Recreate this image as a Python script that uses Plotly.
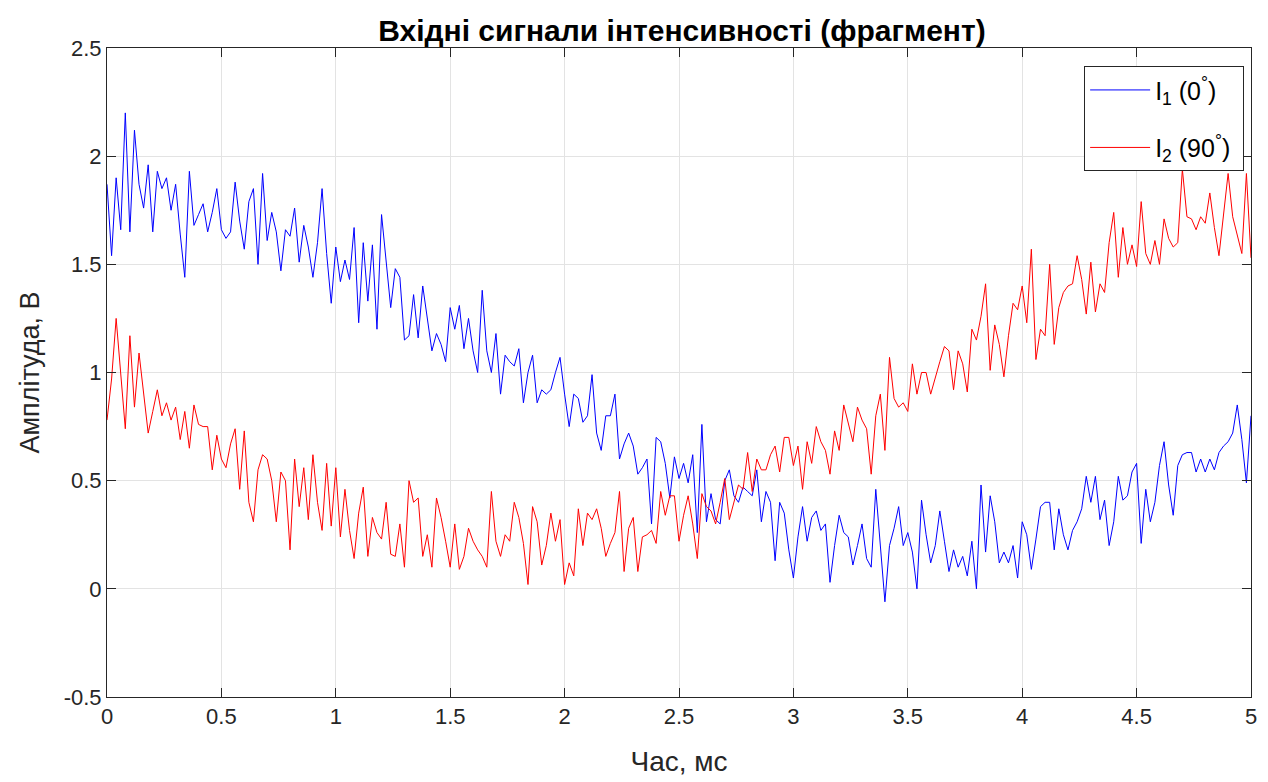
import numpy as np
import plotly.graph_objects as go

i1_values = [
    1.87, 1.54, 1.90, 1.66, 2.20, 1.65, 2.12, 1.87, 1.76, 1.96, 1.65, 1.93, 1.85, 1.90, 1.75, 1.87, 1.64, 1.44, 1.93, 1.68,
    1.73, 1.78, 1.65, 1.74, 1.85, 1.66, 1.62, 1.65, 1.88, 1.70, 1.57, 1.79, 1.85, 1.50, 1.92, 1.61, 1.74, 1.65, 1.47, 1.66,
    1.63, 1.76, 1.51, 1.68, 1.58, 1.44, 1.60, 1.85, 1.55, 1.32, 1.58, 1.42, 1.52, 1.43, 1.67, 1.23, 1.60, 1.33, 1.59, 1.20,
    1.73, 1.50, 1.30, 1.48, 1.44, 1.15, 1.17, 1.36, 1.16, 1.40, 1.26, 1.10, 1.18, 1.13, 1.05, 1.30, 1.20, 1.31, 1.11, 1.25, 1.10, 1.00, 1.38,
    1.10, 1.00, 1.18, 0.90, 1.08, 1.05, 1.03, 1.11, 0.86, 1.00, 1.08, 0.86, 0.92, 0.90, 0.92, 1.00, 1.07, 0.90, 0.75, 0.90, 0.88,
    0.77, 0.80, 0.99, 0.72, 0.64, 0.80, 0.80, 0.90, 0.60, 0.67, 0.72, 0.66, 0.53, 0.56, 0.60, 0.30, 0.70, 0.68, 0.58, 0.42,
    0.61, 0.51, 0.58, 0.49, 0.62, 0.26, 0.76, 0.31, 0.44, 0.32, 0.30, 0.50, 0.55, 0.43, 0.40, 0.47, 0.45, 0.43, 0.55, 0.31,
    0.45, 0.40, 0.13, 0.40, 0.35, 0.18, 0.05, 0.24, 0.38, 0.22, 0.33, 0.36, 0.27, 0.30, 0.03, 0.20, 0.34, 0.26, 0.24, 0.11, 0.20,
    0.30, 0.14, 0.10, 0.46, 0.20, -0.06, 0.20, 0.28, 0.38, 0.20, 0.26, 0.17, 0.00, 0.41, 0.25, 0.12, 0.20, 0.36, 0.22, 0.08, 0.18,
    0.10, 0.15, 0.06, 0.22, 0.00, 0.48, 0.17, 0.43, 0.31, 0.12, 0.17, 0.12, 0.20, 0.05, 0.31, 0.25, 0.09, 0.23, 0.38, 0.40, 0.40,
    0.18, 0.37, 0.25, 0.18, 0.27, 0.31, 0.37, 0.52, 0.40, 0.52, 0.32, 0.41, 0.20, 0.31, 0.52, 0.41, 0.43, 0.54, 0.58, 0.21,
    0.46, 0.31, 0.40, 0.57, 0.68, 0.48, 0.34, 0.57, 0.62, 0.63, 0.63, 0.54, 0.60, 0.54, 0.60, 0.55, 0.63, 0.66, 0.68, 0.72, 0.85, 0.69, 0.49, 0.80,
]

i2_values = [
    0.78, 0.97, 1.25, 1.00, 0.74, 1.17, 0.84, 1.09, 0.90, 0.72, 0.82, 0.92, 0.80, 0.86, 0.78, 0.84, 0.69, 0.82, 0.65, 0.85,
    0.76, 0.75, 0.75, 0.55, 0.71, 0.60, 0.56, 0.67, 0.74, 0.46, 0.73, 0.40, 0.31, 0.55, 0.62, 0.60, 0.50, 0.31, 0.54, 0.50,
    0.18, 0.60, 0.38, 0.56, 0.32, 0.62, 0.40, 0.27, 0.58, 0.29, 0.56, 0.24, 0.46, 0.27, 0.14, 0.35, 0.47, 0.15, 0.33, 0.26,
    0.23, 0.40, 0.16, 0.15, 0.30, 0.10, 0.50, 0.40, 0.42, 0.15, 0.25, 0.10, 0.42, 0.33, 0.22, 0.10, 0.30, 0.09, 0.15, 0.28, 0.22, 0.18, 0.15,
    0.10, 0.45, 0.22, 0.15, 0.25, 0.22, 0.40, 0.33, 0.21, 0.02, 0.38, 0.31, 0.11, 0.20, 0.35, 0.22, 0.32, 0.02, 0.12, 0.06, 0.37,
    0.20, 0.35, 0.32, 0.37, 0.28, 0.15, 0.21, 0.26, 0.45, 0.08, 0.28, 0.33, 0.08, 0.24, 0.25, 0.27, 0.21, 0.45, 0.34, 0.43,
    0.43, 0.22, 0.34, 0.43, 0.30, 0.14, 0.44, 0.38, 0.36, 0.30, 0.40, 0.51, 0.32, 0.40, 0.48, 0.46, 0.63, 0.45, 0.60, 0.55,
    0.55, 0.62, 0.66, 0.54, 0.70, 0.70, 0.57, 0.66, 0.46, 0.68, 0.58, 0.75, 0.68, 0.64, 0.53, 0.73, 0.64, 0.85, 0.77, 0.68, 0.84,
    0.78, 0.74, 0.53, 0.80, 0.90, 0.64, 1.07, 0.88, 0.84, 0.86, 0.82, 1.04, 0.90, 1.00, 1.00, 0.90, 0.98, 1.05, 1.12, 1.10, 0.92,
    1.10, 1.04, 0.91, 1.20, 1.15, 1.26, 1.41, 1.01, 1.22, 1.13, 0.98, 1.17, 1.32, 1.29, 1.40, 1.23, 1.57, 1.06, 1.20, 1.17, 1.50,
    1.13, 1.30, 1.37, 1.40, 1.41, 1.54, 1.43, 1.27, 1.51, 1.28, 1.41, 1.37, 1.60, 1.74, 1.44, 1.67, 1.50, 1.59, 1.49, 1.79,
    1.55, 1.50, 1.61, 1.50, 1.71, 1.62, 1.58, 1.60, 1.94, 1.72, 1.71, 1.66, 1.72, 1.69, 1.83, 1.67, 1.54, 1.72, 1.92, 1.72, 1.63, 1.55, 1.92, 1.53,
]

t_start, t_end = 0.0, 5.0
t1 = np.linspace(t_start, t_end, len(i1_values))
t2 = np.linspace(t_start, t_end, len(i2_values))

x_ticks = [0, 0.5, 1, 1.5, 2, 2.5, 3, 3.5, 4, 4.5, 5]
y_ticks = [-0.5, 0, 0.5, 1, 1.5, 2, 2.5]

title_text = "Вхідні сигнали інтенсивності (фрагмент)"
x_label = "Час, мс"
y_label = "Амплітуда, В"
name1 = "I<sub>1</sub> (0<sup>°</sup>)   "
name2 = "I<sub>2</sub> (90<sup>°</sup>)"

FONT = "Liberation Sans, Arial, sans-serif"

fig = go.Figure()
fig.add_trace(go.Scatter(x=t1, y=i1_values, mode="lines", name=name1,
                         legendgroup="g1",
                         line=dict(color="#0000ff", width=1)))
fig.add_trace(go.Scatter(x=t2, y=i2_values, mode="lines", name=name2,
                         legendgroup="g2",
                         line=dict(color="#ff0000", width=1)))

axis_common = dict(
    showline=True, mirror="ticks", linecolor="#262626", linewidth=1,
    ticks="inside", ticklen=9, tickcolor="#262626",
    showgrid=True, gridcolor="#e3e3e3", gridwidth=1,
    zeroline=False, tickfont=dict(family=FONT, size=22, color="#262626"),
)

fig.update_layout(
    width=1268, height=782,
    margin=dict(l=107, r=11, t=48, b=83),
    paper_bgcolor="white", plot_bgcolor="white",
    title=dict(text="<b>" + title_text + "</b>", x=0.5378, xanchor="center",
               y=0.961, yanchor="middle",
               font=dict(family=FONT, size=30, color="black")),
    xaxis=dict(range=[0, 5], tickvals=x_ticks, ticktext=[f"{v:g}" for v in x_ticks],
               title=dict(text=x_label, font=dict(family=FONT, size=28, color="#262626"), standoff=22),
               **axis_common),
    yaxis=dict(range=[-0.5, 2.5], tickvals=y_ticks, ticktext=[f"{v:g}" for v in y_ticks],
               title=dict(text=y_label, font=dict(family=FONT, size=27, color="#262626"), standoff=16),
               **axis_common),
    legend=dict(x=0.994, y=0.972, xanchor="right", yanchor="top",
                bgcolor="white", bordercolor="#262626", borderwidth=1,
                font=dict(family=FONT, size=25, color="black"),
                traceorder="grouped", tracegroupgap=22,
                itemwidth=60),
    showlegend=True,
)

fig.write_html("out.html")
